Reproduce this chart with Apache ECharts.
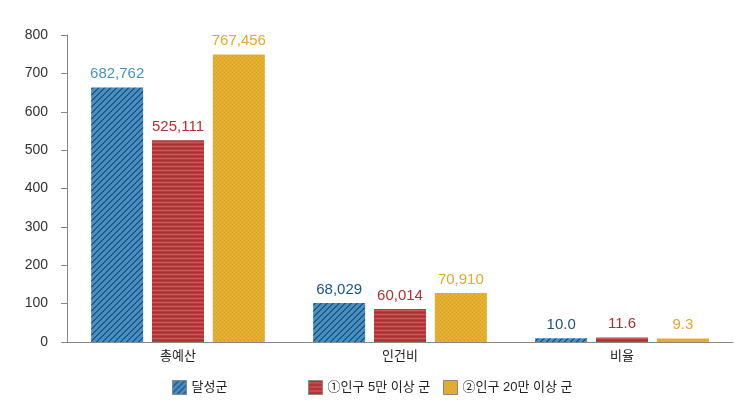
<!DOCTYPE html>
<html><head><meta charset="utf-8">
<script src="https://cdn.jsdelivr.net/npm/echarts@6/dist/echarts.min.js"></script>
<style>html,body{margin:0;padding:0;background:#fff}#c{width:751px;height:420px}</style>
</head><body><div id="c"></div>
<script>
var categories = ['총예산', '인건비', '비율'];
var seriesNames = ['달성군', '①인구 5만 이상 군', '②인구 20만 이상 군'];
// bar heights as drawn in the reference (axis units)
var dalseong = [663, 101.5, 10.0];
var pop5 = [525.5, 86, 11.6];
var pop20 = [749, 127.5, 9.3];
// label texts as printed in the reference
var dalseongLabels = ['682,762', '68,029', '10.0'];
var pop5Labels = ['525,111', '60,014', '11.6'];
var pop20Labels = ['767,456', '70,910', '9.3'];
var yTicks = [0, 100, 200, 300, 400, 500, 600, 700, 800];

function pattern(kind) {
  var c = document.createElement('canvas');
  var ctx;
  if (kind === 'blue') {
    c.width = 6; c.height = 6; ctx = c.getContext('2d');
    ctx.fillStyle = '#4a8fc0'; ctx.fillRect(0, 0, 6, 6);
    ctx.fillStyle = '#1d5a88';
    for (var i = 0; i < 6; i++) { ctx.fillRect((5 - i + 6) % 6, i, 1, 1); ctx.fillRect((6 - i + 6) % 6, i, 1, 1); }
  } else if (kind === 'red') {
    c.width = 4; c.height = 4; ctx = c.getContext('2d');
    ctx.fillStyle = '#bf3b3d'; ctx.fillRect(0, 0, 4, 4);
    ctx.fillStyle = '#a83033'; ctx.fillRect(0, 0, 4, 1);
    ctx.fillStyle = '#c9585a'; ctx.fillRect(0, 2, 4, 1);
  } else {
    c.width = 4; c.height = 4; ctx = c.getContext('2d');
    ctx.fillStyle = '#e3ad2e'; ctx.fillRect(0, 0, 4, 4);
    ctx.fillStyle = '#d9a028';
    ctx.fillRect(0, 0, 1, 1); ctx.fillRect(2, 2, 1, 1);
    ctx.fillStyle = '#e8b840';
    ctx.fillRect(2, 0, 1, 1); ctx.fillRect(0, 2, 1, 1);
  }
  return { image: c, repeat: 'repeat' };
}

var font = '"Liberation Sans", "Noto Sans CJK KR", sans-serif';

function mkSeries(name, values, labels, fill, labelColors) {
  return {
    name: name, type: 'bar', barWidth: 52, barGap: '17%',
    itemStyle: { color: fill },
    data: values.map(function (v, i) {
      return { value: v, label: { color: labelColors[i] } };
    }),
    label: {
      show: true, position: 'top', distance: 6,
      fontFamily: font, fontSize: 15,
      formatter: function (p) { return labels[p.dataIndex]; }
    }
  };
}

var chart = echarts.init(document.getElementById('c'), null, { renderer: 'canvas' });
var legendBase = {
  top: 375, itemWidth: 14, itemHeight: 14, itemGap: 0, icon: 'rect',
  textStyle: { fontFamily: font, fontSize: 13, color: '#222' },
  itemStyle: { borderColor: '#888', borderWidth: 1 }
};
chart.setOption({
  animation: false,
  grid: { left: 67, right: 18, top: 35, bottom: 78 },
  legend: [
    Object.assign({}, legendBase, { left: 167, data: [seriesNames[0]] }),
    Object.assign({}, legendBase, { left: 303, data: [seriesNames[1]] }),
    Object.assign({}, legendBase, { left: 438, data: [seriesNames[2]] })
  ],
  xAxis: {
    type: 'category', data: categories,
    axisLine: { lineStyle: { color: '#888', width: 1 } },
    axisTick: { show: false },
    axisLabel: { fontFamily: font, fontSize: 13, color: '#222', margin: 8 }
  },
  yAxis: {
    type: 'value', min: yTicks[0], max: yTicks[yTicks.length - 1], interval: 100,
    axisLine: { show: true, lineStyle: { color: '#888', width: 1 } },
    axisTick: { show: true, length: 6, lineStyle: { color: '#888' } },
    splitLine: { show: false },
    axisLabel: { fontFamily: font, fontSize: 14, color: '#333', margin: 19 }
  },
  series: [
    mkSeries(seriesNames[0], dalseong, dalseongLabels, pattern('blue'), ['#4a92c4', '#1b5580', '#1b5580']),
    mkSeries(seriesNames[1], pop5, pop5Labels, pattern('red'), ['#b3302f', '#b3302f', '#b3302f']),
    mkSeries(seriesNames[2], pop20, pop20Labels, pattern('gold'), ['#e3a92a', '#e3a92a', '#e3a92a'])
  ]
});
</script></body></html>
